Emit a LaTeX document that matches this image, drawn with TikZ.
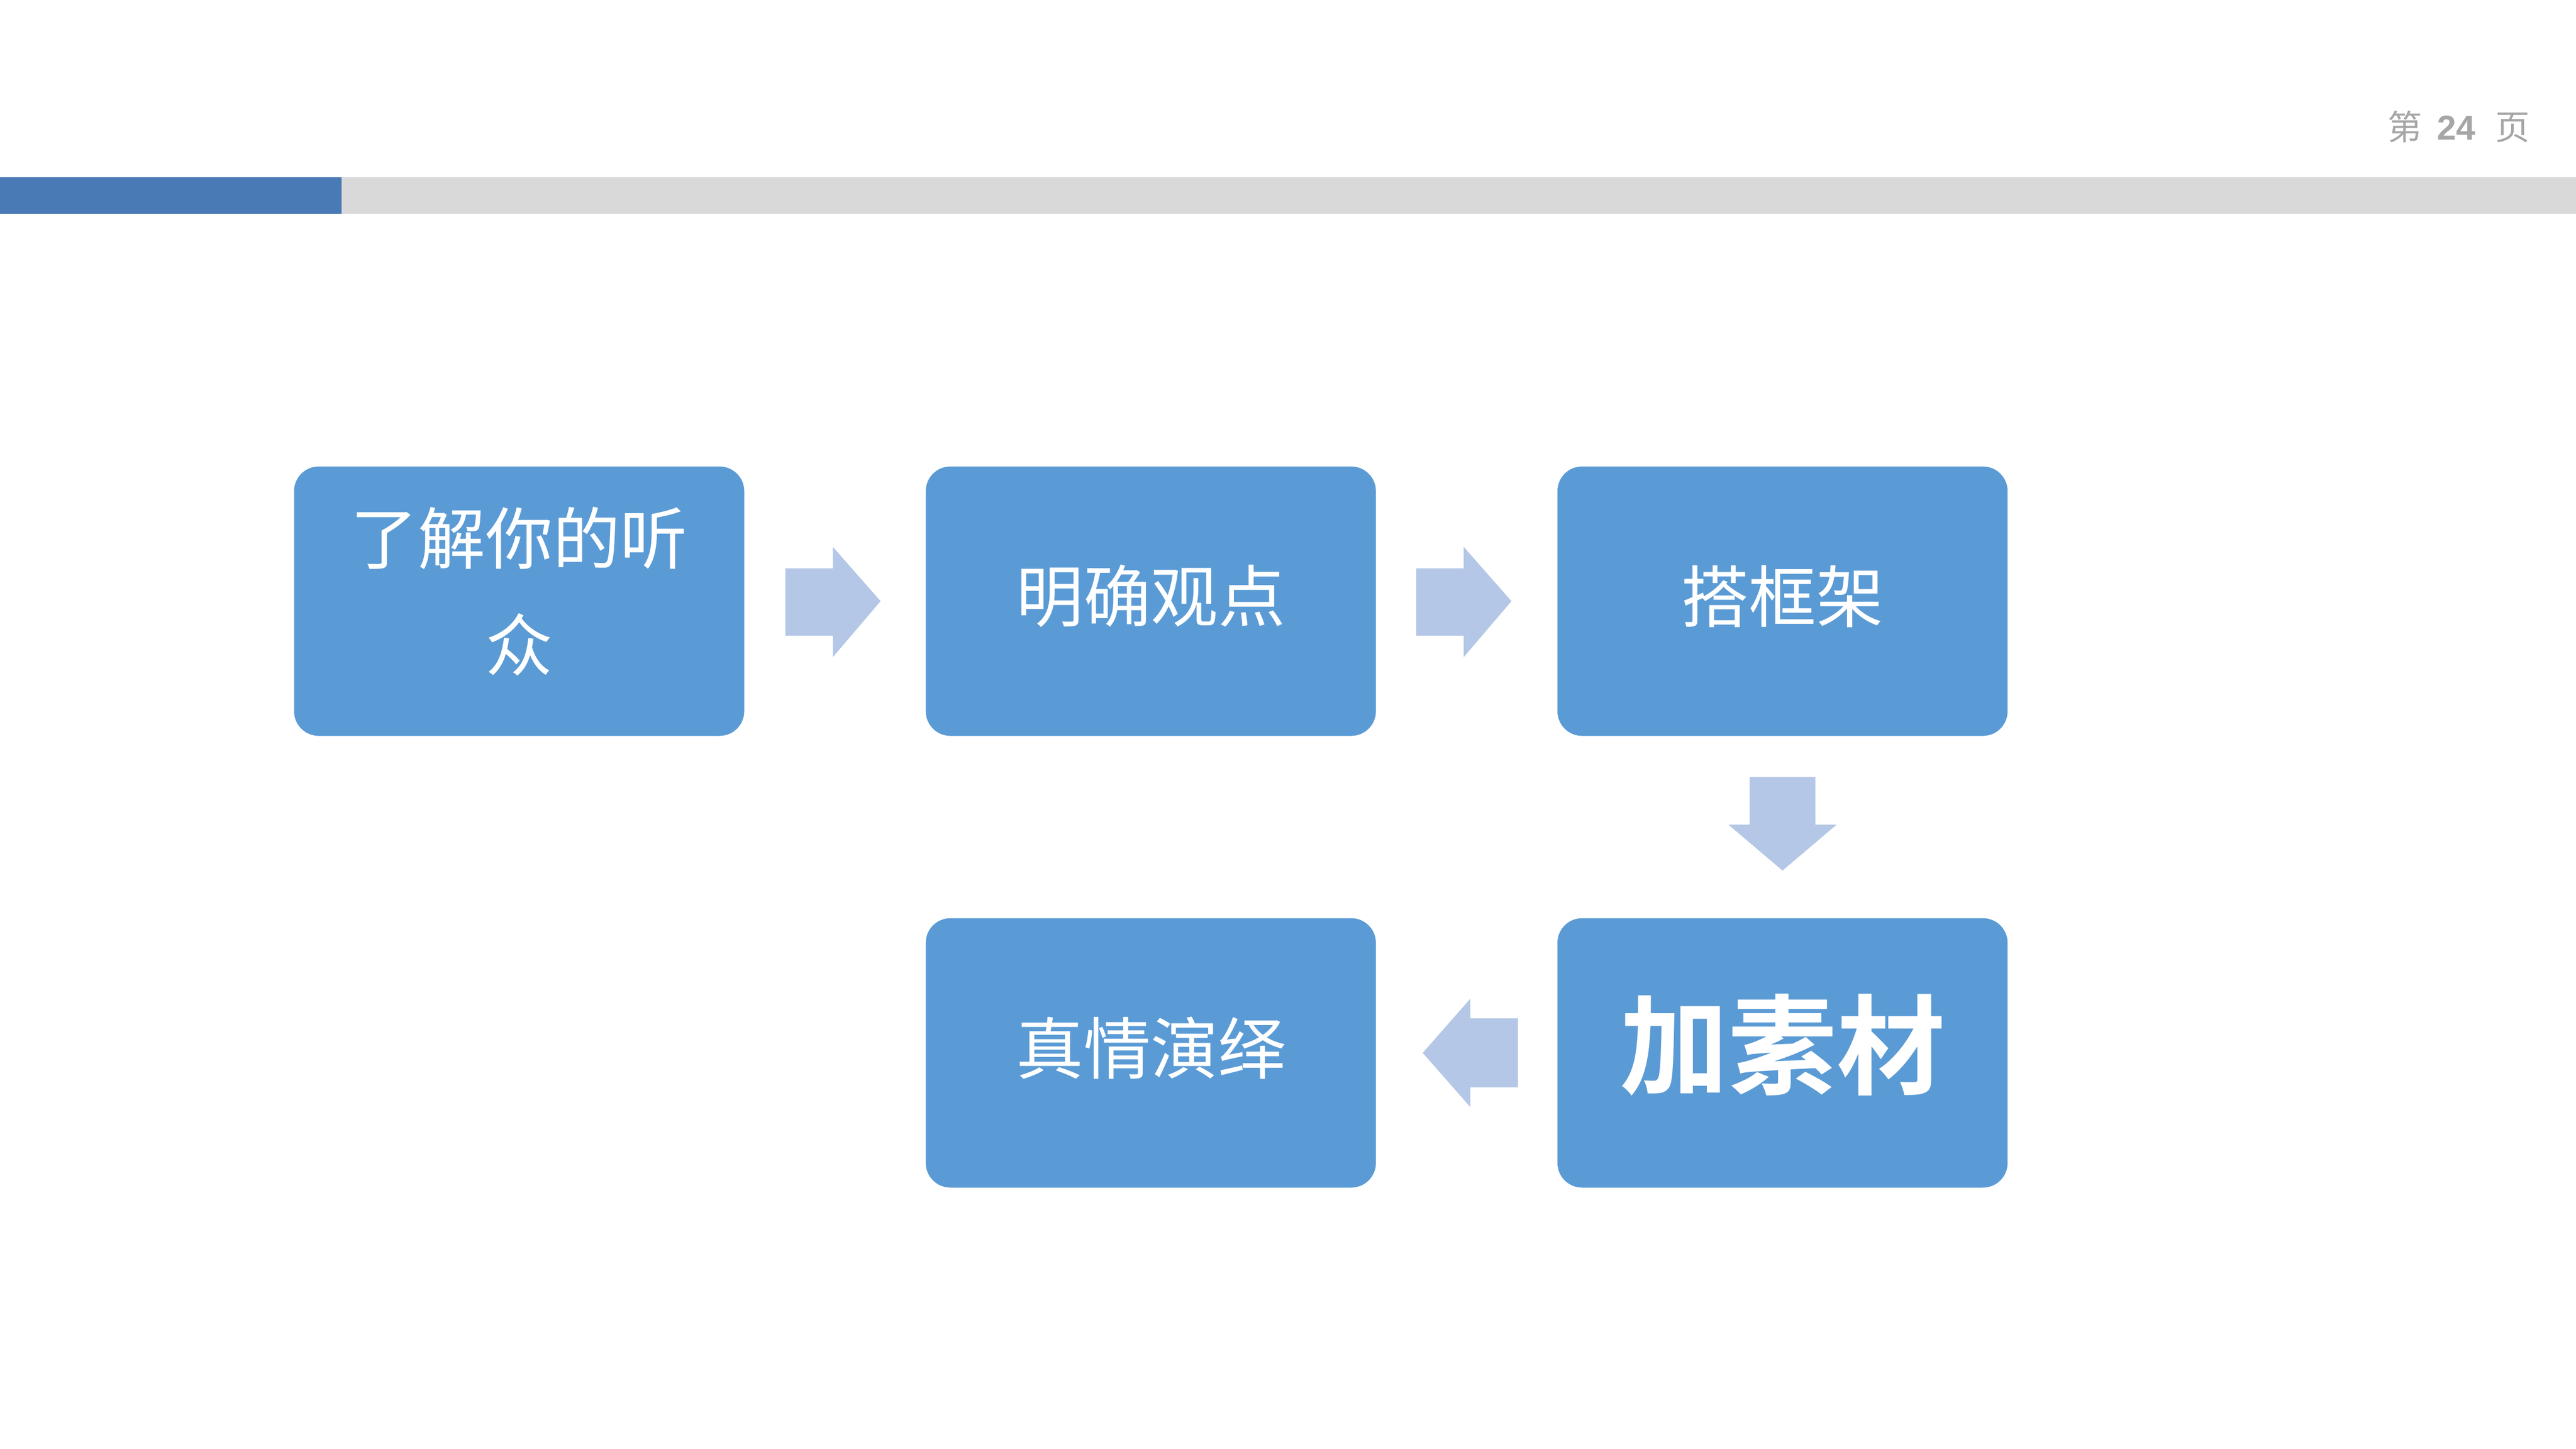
\documentclass[tikz,border=0pt]{standalone}
\usepackage{fontspec}
\newfontfamily\cjk{Noto Sans CJK SC}
\newfontfamily\cjkbold{Noto Sans CJK SC Bold}
\newfontfamily\latinsans{Liberation Sans}
\definecolor{boxblue}{HTML}{5B9BD5}
\definecolor{arrowblue}{HTML}{B4C7E7}
\definecolor{barblue}{HTML}{4A7AB5}
\definecolor{bargray}{HTML}{D9D9D9}
\definecolor{pagegray}{HTML}{A6A6A6}
\tikzset{
  stepbox/.style={fill=boxblue, rounded corners=15pt, minimum width=274pt, minimum height=164pt, inner sep=0pt},
  steptext/.style={inner sep=0pt, text=white, align=center, font=\cjk\fontsize{41}{65}\selectfont},
  blockarrow/.style={fill=arrowblue, draw=none},
}
\begin{document}
\begin{tikzpicture}[x=1pt,y=-1pt]
\useasboundingbox (0,0) rectangle (1568,882);
\fill[white] (0,0) rectangle (1568,882);
% top bar
\fill[bargray] (208,108) rectangle (1568,130);
\fill[barblue] (0,108) rectangle (208,130);
\node[anchor=east, text=pagegray, font=\cjk\fontsize{21}{24}\selectfont, inner sep=0pt] (page) at (1540,77) {第\hspace{9pt}{\latinsans\bfseries 24}\hspace{12pt}页};
% boxes
\node[stepbox] (b1) at (316,366) {};
\node[stepbox] (b2) at (700.5,366) {};
\node[stepbox] (b3) at (1085,366) {};
\node[stepbox] (b4) at (1085,641) {};
\node[stepbox] (b5) at (700.5,641) {};
% texts
\node[steptext] (t1) at ([yshift=6pt]b1.center) {了解你的听\\众};
\node[steptext] (t2) at ([yshift=3pt]b2.center) {明确观点};
\node[steptext] (t3) at ([yshift=3pt]b3.center) {搭框架};
\node[steptext, font=\cjkbold\fontsize{66}{70}\selectfont] (t4) at ([yshift=5pt]b4.center) {加素材};
\node[steptext] (t5) at ([yshift=3pt]b5.center) {真情演绎};
% block arrows
\fill[blockarrow] (478,346) -- (507,346) -- (507,333) -- (536,366) -- (507,400) -- (507,387) -- (478,387) -- cycle;
\fill[blockarrow] (862,346) -- (891,346) -- (891,333) -- (920,366) -- (891,400) -- (891,387) -- (862,387) -- cycle;
\fill[blockarrow] (1065,473) -- (1105,473) -- (1105,502) -- (1118,502) -- (1085,530) -- (1052,502) -- (1065,502) -- cycle;
\fill[blockarrow] (924,620) -- (895,620) -- (895,608) -- (866,641) -- (895,674) -- (895,662) -- (924,662) -- cycle;
\end{tikzpicture}
\end{document}
